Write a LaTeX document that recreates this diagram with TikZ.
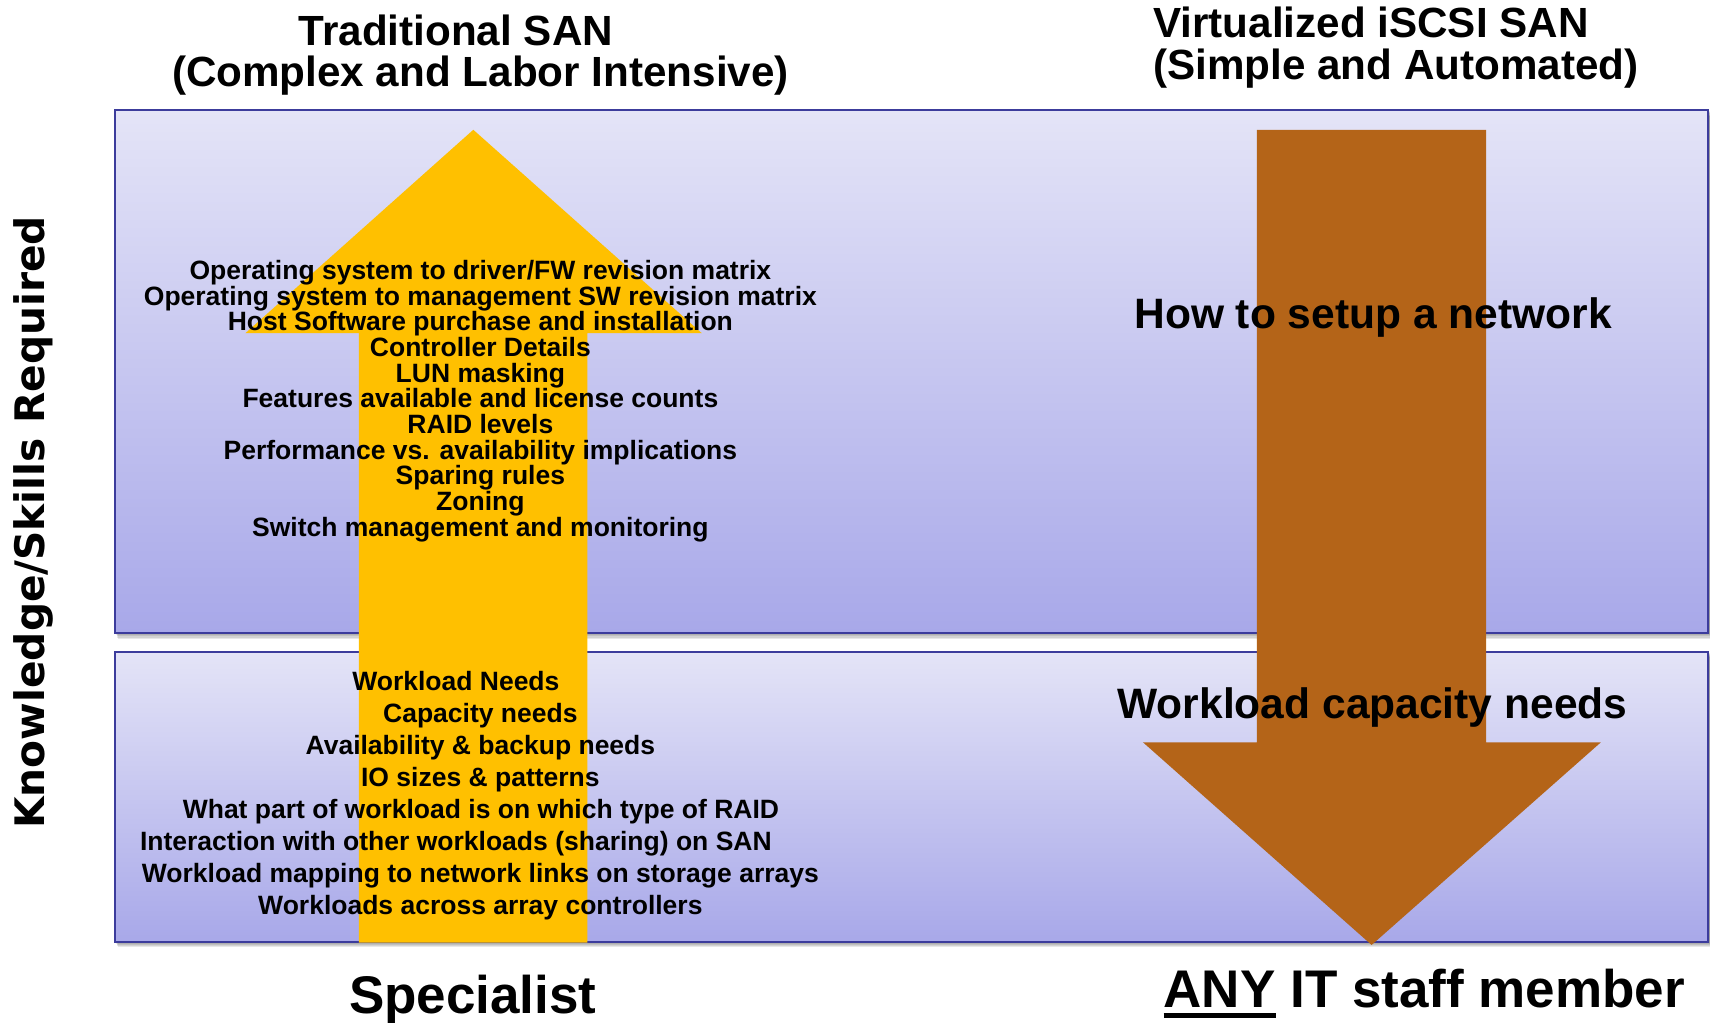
\documentclass[tikz,border=0pt]{standalone}
\usepackage{fontspec}
\setmainfont{Liberation Sans}
\newfontfamily\vlabelfont{DejaVu Sans}
\newsavebox\anybox
\definecolor{boxtop}{RGB}{228,228,247}
\definecolor{boxbot}{RGB}{168,168,233}
\definecolor{boxline}{RGB}{60,60,156}
\definecolor{sanyellow}{RGB}{255,192,0}
\definecolor{sanbrown}{RGB}{180,100,24}
\begin{document}
\begin{tikzpicture}[x=0.5pt,y=-0.5pt,
  sanbox/.style={draw=boxline, line width=1pt, top color=boxtop, bottom color=boxbot},
  listtext/.style={font=\bfseries\fontsize{12.15}{12.15}\selectfont, inner sep=0pt, anchor=base},
  titletext/.style={font=\bfseries\fontsize{19.35}{19.35}\selectfont, inner sep=0pt, anchor=base},
  bigtext/.style={font=\bfseries\fontsize{19.5}{19.5}\selectfont, inner sep=0pt, anchor=base},
  roletext/.style={font=\bfseries\fontsize{24.3}{24.3}\selectfont, inner sep=0pt, anchor=base}]
\useasboundingbox (0,0) rectangle (1568,938);
% shadows
\foreach \k in {1,2,3,4,5}{
  \fill[black,opacity=0.09] (105.5+0.5*\k,101+1*\k) rectangle (1570,580.6+1*\k);
  \fill[black,opacity=0.09] (105.5+0.5*\k,597.5+1*\k) rectangle (1570,863.4+1*\k);
}
% boxes
\path[sanbox] (105.5,101) rectangle (1566.5,580.6);
\path[sanbox] (105.5,597.5) rectangle (1566.5,863.4);
% arrows
\fill[sanyellow] (329,864.3) -- (329,305.5) -- (225,305.5) -- (434,119) -- (643.5,305.5) -- (538.5,305.5) -- (538.5,864.3) -- cycle;
\fill[sanbrown] (1152.6,119) -- (1362.7,119) -- (1362.7,680.6) -- (1468,680.6) -- (1257.7,866.5) -- (1048,680.6) -- (1152.6,680.6) -- cycle;
% titles
\node[titletext] (tradA) at (418,42) {Traditional SAN};
\node[titletext] (tradB) at (440.5,79) {(Complex and Labor Intensive)};
\node[titletext,anchor=base west] (virtA) at (1057,34.5) {Virtualized iSCSI SAN};
\node[titletext,anchor=base west] (virtB) at (1057,73) {(Simple and Automated)};
% vertical label
\node[font=\vlabelfont\bfseries\fontsize{18.65}{18.65}\selectfont, rotate=90, anchor=base, inner sep=0pt] (ylabel) at (41,479) {Knowledge/Skills Required};
% upper list
\foreach \t [count=\i] in {Operating system to driver/FW revision matrix,
  Operating system to management SW revision matrix,
  Host Software purchase and installation,
  Controller Details,
  LUN masking,
  Features available and license counts,
  RAID levels,
  Performance vs. availability implications,
  Sparing rules,
  Zoning,
  Switch management and monitoring}
  \node[listtext] (u\i) at (440.5,{256.5+(\i-1)*23.5}) {\t};
% lower list
\node[listtext] (l1) at (418,633) {Workload Needs};
\node[listtext] (l2) at (440.5,662.5) {Capacity needs};
\node[listtext] (l3) at (440.5,692) {Availability \& backup needs};
\node[listtext] (l4) at (440.5,721.5) {IO sizes \& patterns};
\node[listtext] (l5) at (441,750.5) {What part of workload is on which type of RAID};
\node[listtext] (l6) at (418,780) {Interaction with other workloads (sharing) on SAN};
\node[listtext] (l7) at (440.5,809.5) {Workload mapping to network links on storage arrays};
\node[listtext] (l8) at (440.5,839) {Workloads across array controllers};
% right texts
\node[bigtext] (net) at (1259,301) {How to setup a network};
\node[bigtext] (cap) at (1258.5,659) {Workload capacity needs};
% bottom labels
\node[roletext] (spec) at (433.5,929) {Specialist};
\node[roletext] (any) at (1306,924) {\sbox\anybox{ANY}\rlap{\rule[-0.2em]{\wd\anybox}{0.1em}}\usebox\anybox{} IT staff member};
\end{tikzpicture}
\end{document}
